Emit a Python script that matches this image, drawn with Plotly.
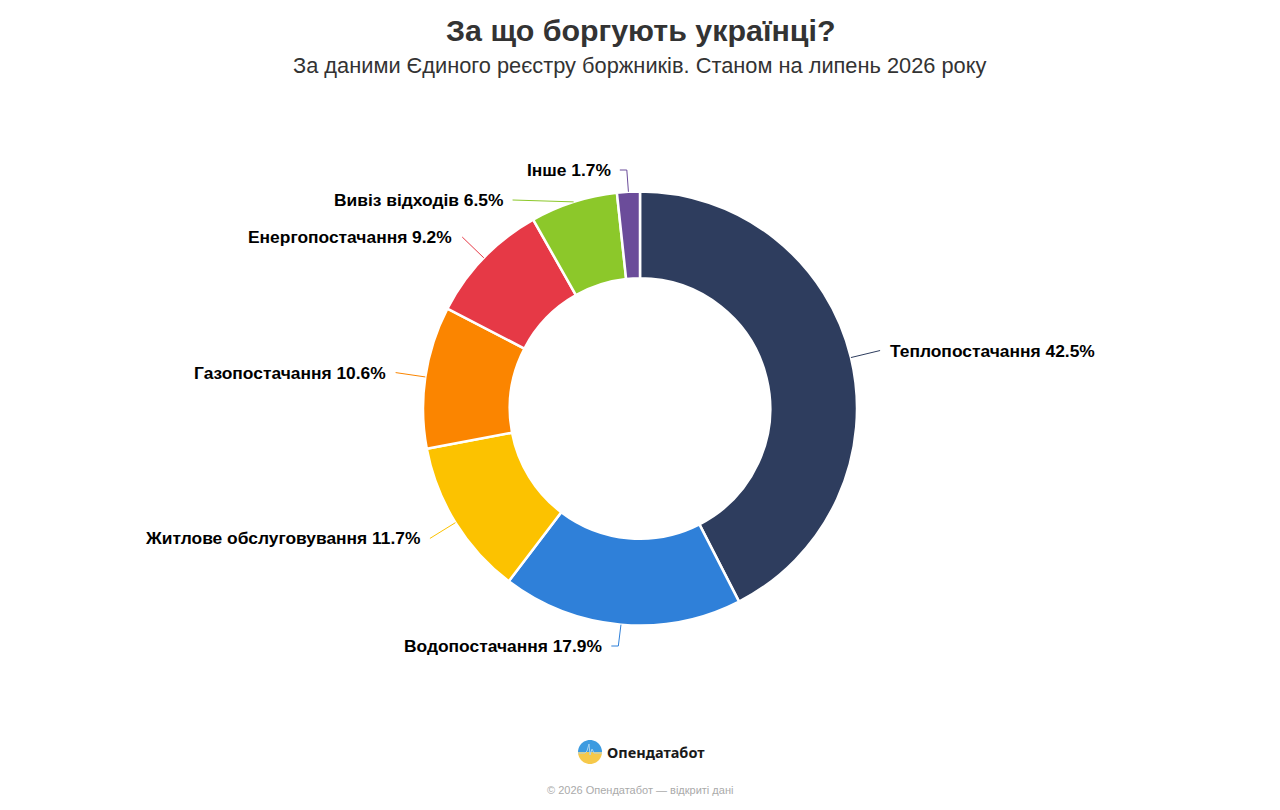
import math
import plotly.graph_objects as go

categories = ["Теплопостачання", "Водопостачання", "Житлове обслуговування",
              "Газопостачання", "Енергопостачання", "Вивіз відходів", "Інше"]
values = [42.5, 17.9, 11.7, 10.6, 9.2, 6.5, 1.7]
colors = ["#2e3d5e", "#2f80d9", "#fcc200", "#fb8500", "#e63946", "#8cc82a", "#6b4c9a"]

W, H = 1280, 810
OFF = 8.0  # page body margin
CX, CY, R = 640.0, 408.5, 217.0
DIST = 30.0
FONT = "Liberation Sans, Arial, Helvetica, sans-serif"


def px(x):
    return (x - OFF) / W


def py(y):
    return 1 - (y - OFF) / H


fig = go.Figure()
fig.add_trace(go.Pie(
    labels=categories, values=values, sort=False, direction="clockwise",
    rotation=0, hole=0.6,
    marker=dict(colors=colors, line=dict(color="#ffffff", width=2.5)),
    textinfo="none", hoverinfo="label+percent", showlegend=False,
    domain=dict(x=[max(px(CX - 600), 0), min(px(CX + 600), 1)], y=[py(CY + R), py(CY - R)]),
))

# label placement derived from the slice angles
total = sum(values)
acc = 0.0
items = []
for cat, v, col in zip(categories, values, colors):
    mid = (acc + v / 2) / total * 2 * math.pi
    acc += v
    s, c = math.sin(mid), math.cos(mid)
    side = 1 if s >= 0 else -1
    items.append(dict(cat=cat, v=v, col=col, s=s, c=c, side=side,
                      y=CY - (R + DIST) * c, moved=False, clamped=False))

top_lim, bot_lim, gap = 170.0, 646.0, 30.0
for side in (1, -1):
    grp = sorted([it for it in items if it["side"] == side], key=lambda d: d["y"])
    prev = None
    for it in grp:
        if it["y"] < top_lim:
            it["y"] = top_lim
            it["clamped"] = True
        if it["y"] > bot_lim:
            it["y"] = bot_lim
            it["clamped"] = True
        if prev is not None and it["y"] < prev + gap:
            it["y"] = prev + gap
            it["moved"] = True
        prev = it["y"]

shapes = []
annotations = []
for it in items:
    side = it["side"]
    ax_ = CX + R * it["s"]
    ay_ = CY - R * it["c"]
    dy = it["y"] - CY
    if it["moved"]:
        ex = CX + side * math.sqrt(max((R + DIST) ** 2 - dy ** 2, 0)) - side * 5
    else:
        ex = CX + (R + DIST) * it["s"]
    tx = ex + side * (14 if it["clamped"] else 8)
    if it["clamped"]:
        path = (f"M {px(ax_)} {py(ay_)} L {px(ex)} {py(it['y'])} "
                f"L {px(ex + side * 7)} {py(it['y'])}")
    else:
        path = f"M {px(ax_)} {py(ay_)} L {px(ex)} {py(it['y'])}"
    shapes.append(dict(type="path", xref="paper", yref="paper", path=path,
                       line=dict(color=it["col"], width=1)))
    annotations.append(dict(
        x=px(tx), y=py(it["y"]), xref="paper", yref="paper",
        xanchor="left" if side > 0 else "right", yanchor="middle",
        text=f"<b>{it['cat']} {it['v']}%</b>", showarrow=False,
        font=dict(family=FONT, size=17.4, color="#000000")))

# title and subtitle
annotations.append(dict(x=px(640), y=py(30), xref="paper", yref="paper", xanchor="center",
                        yanchor="middle", showarrow=False,
                        text="<b>За що боргують українці?</b>",
                        font=dict(family=FONT, size=30.4, color="#333333")))
annotations.append(dict(x=px(640), y=py(65), xref="paper", yref="paper", xanchor="center",
                        yanchor="middle", showarrow=False,
                        text="За даними Єдиного реєстру боржників. Станом на липень 2026 року",
                        font=dict(family=FONT, size=21.8, color="#333333")))

# brand logo
LX, LY, LR = 590.0, 752.0, 12.0
top_half = (f"M {px(LX - LR)} {py(LY)} "
            + " ".join(f"L {px(LX - LR * math.cos(a * math.pi / 24))} {py(LY - LR * math.sin(a * math.pi / 24))}" for a in range(1, 25))
            + " Z")
bot_half = (f"M {px(LX - LR)} {py(LY)} "
            + " ".join(f"L {px(LX - LR * math.cos(a * math.pi / 24))} {py(LY + LR * math.sin(a * math.pi / 24))}" for a in range(1, 25))
            + " Z")
shapes.append(dict(type="path", xref="paper", yref="paper", path=top_half,
                   fillcolor="#3d9be0", line=dict(width=0)))
shapes.append(dict(type="path", xref="paper", yref="paper", path=bot_half,
                   fillcolor="#f6c94a", line=dict(width=0)))
pulse = [(-12, 1), (-5, 1), (-3, -1), (-1, -8), (0, 3), (2, -3), (4, 1), (12, 1)]
pp = "M " + " L ".join(f"{px(LX + a)} {py(LY + b)}" for a, b in pulse)
shapes.append(dict(type="path", xref="paper", yref="paper", path=pp,
                   line=dict(color="#a9d4f0", width=1)))
annotations.append(dict(x=px(605), y=py(752), xref="paper", yref="paper", xanchor="left",
                        yanchor="middle", showarrow=False, text="<b>Опендатабот</b>",
                        font=dict(family="Noto Sans, Open Sans, sans-serif", size=14.5, color="#1a1a1a")))
annotations.append(dict(x=px(640), y=py(790), xref="paper", yref="paper", xanchor="center",
                        yanchor="middle", showarrow=False,
                        text="© 2026 Опендатабот — відкриті дані",
                        font=dict(family=FONT, size=11, color="#aaaaaa")))

fig.update_layout(
    width=W, height=H, margin=dict(l=0, r=0, t=0, b=0),
    paper_bgcolor="#ffffff", plot_bgcolor="#ffffff",
    shapes=shapes, annotations=annotations,
)
fig.write_html("out.html")
